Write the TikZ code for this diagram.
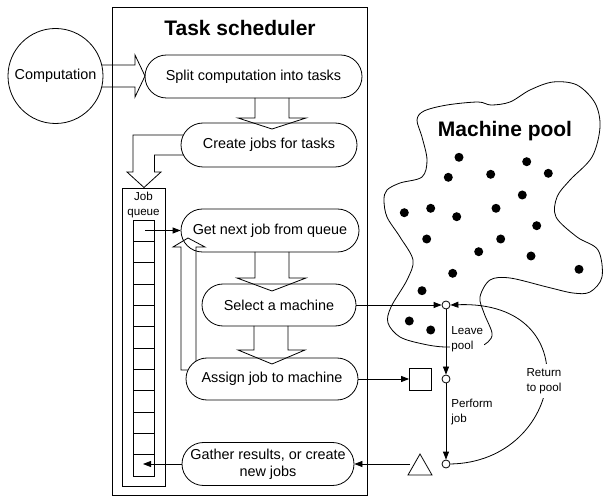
\documentclass[tikz,border=0pt]{standalone}
\usepackage{fontspec}
\setmainfont{Liberation Sans}
\usetikzlibrary{shapes.misc,arrows.meta,calc}
\begin{document}
\begin{tikzpicture}[x=1pt,y=-1pt, line width=0.8pt, line join=miter,
 pill/.style={rounded rectangle, draw, fill=white, inner sep=0pt, font=\fontsize{14.4}{17}\selectfont, align=center},
 arr/.style={-{Triangle[length=8pt,width=6pt]}},
 small/.style={font=\fontsize{11.6}{14.5}\selectfont, inner sep=1pt},
 dot/.style={circle, fill=black, inner sep=0pt, minimum size=9pt},
 ring/.style={circle, draw, fill=white, inner sep=0pt, minimum size=8pt},
 bigtitle/.style={font=\fontsize{21}{24}\selectfont\bfseries}]
\useasboundingbox (0,0) rectangle (603,497);

% task scheduler frame
\draw (112,7) rectangle (367,495.5);
\node[bigtitle] (tstitle) at (240,27.5) {Task scheduler};

% computation
\node[circle, draw, minimum size=95pt, inner sep=0pt, font=\fontsize{14.4}{17}\selectfont] (comp) at (55.5,76) {Computation};

% pills
\node[pill, minimum width=217pt, minimum height=43pt] (split) at (253.5,76.5) {Split computation into tasks};
\node[pill, minimum width=176pt, minimum height=44pt] (create) at (269,145) {Create jobs for tasks};
\node[pill, minimum width=178pt, minimum height=43pt] (getnext) at (270,230.5) {Get next job from queue};
\node[pill, minimum width=154pt, minimum height=42pt] (select) at (279,305) {Select a machine};

% upward block arrow
\draw (181,370) -- (181,247) -- (173,247) -- (188,238) -- (205,247) -- (196,247) -- (196,370) -- cycle;

\node[pill, minimum width=172pt, minimum height=42pt] (assign) at (272,379) {Assign job to machine};
\node[pill, minimum width=172pt, minimum height=43pt] (gather) at (268,464) {Gather results, or create\\new jobs};

% block arrows
\draw (101.7,65) -- (135,65) -- (135,55) -- (145,76) -- (135,97) -- (135,87) -- (101.7,87);
\draw (255,98) -- (255,118) -- (238,118) -- (272,129) -- (306,118) -- (289,118) -- (289,98);
\draw (255,252) -- (255,278) -- (237,278) -- (272,291) -- (306,278) -- (289,278) -- (289,252);
\draw (254,326) -- (254,350) -- (238,350) -- (272,364) -- (305,350) -- (288,350) -- (288,326);
\draw (183,135) -- (133,135) -- (133,172) -- (127,172) -- (144,187.5) -- (161,172) -- (154.5,172) -- (154.5,155) -- (183.5,155);

% job queue
\draw (122,188) rectangle (165,486);
\draw (133,220) rectangle (154,476);
\foreach \i in {1,...,11} {\draw (133,220+\i*21.333) -- (154,220+\i*21.333);}
\node[small, align=center] (jq) at (143.5,205) {Job\\queue};
\coordinate (qfirst) at (145,230.5);
\coordinate (qlast) at (143,464);
\draw[arr] (qfirst) -- (getnext.west);
\draw[arr] (gather.west) -- (qlast);

% machine pool
\draw plot[smooth cycle, tension=0.55] coordinates {(417,120) (424,111) (447,105) (478,102) (491,105) (510,102) (530,90) (553,82) (577,85) (595,103) (600,127) (592,157) (570,180) (557,197) (556,217) (577,237) (598,250) (602,277) (590,292) (573,293) (547,287) (510,278) (490,280) (480,297) (484,313) (492,333) (488,342) (478,346) (445,347) (423,344) (400,337) (388,323) (391,307) (407,280) (413,260) (400,237) (387,217) (384,200) (387,190) (400,183) (422,177) (427,160) (422,137)};
\node[bigtitle] (mptitle) at (505,131) {Machine pool};
\foreach \p in {(459,157.3),(526.7,161.7),(448.3,177.3),(490.7,174.3),(548.3,173.3),(522.3,195),(404.3,212.7),(430.7,208.3),(456.7,216.7),(496,208.3),(536.7,225.7),(426.7,239),(500.7,239),(478.7,251.7),(531,256),(579,269.3),(452.7,273.3),(422,290.7),(409.3,321),(430.7,330)} {\node[dot] at \p {};}

% machine states
\node[ring] (c1) at (446,305) {};
\node[ring] (c2) at (446,379) {};
\node[ring] (c3) at (446,464) {};
\node[draw, minimum size=22pt, inner sep=0pt] (sq) at (420.5,379) {};
\draw (408,475) -- (432,475) -- (420,454) -- cycle;
\coordinate (tri) at (410,464);

\draw[arr] (select.east) -- (c1);
\draw[arr] (assign.east) -- (sq.west);
\draw[arr] (tri) -- (gather.east);
\draw[arr] (c1) -- (c2);
\draw[arr] (c2) -- (c3);
\draw[arr] (c3.east) .. controls (565,462) and (590,300) .. (c1.east);

\node[small, fill=white, anchor=west, align=left] (leave) at (450,339) {Leave\\pool};
\node[small, anchor=west, align=left] (perform) at (450,412) {Perform\\job};
\node[small, fill=white, inner ysep=5pt, align=center] (ret) at (544,381) {Return\\to pool};
\end{tikzpicture}
\end{document}
